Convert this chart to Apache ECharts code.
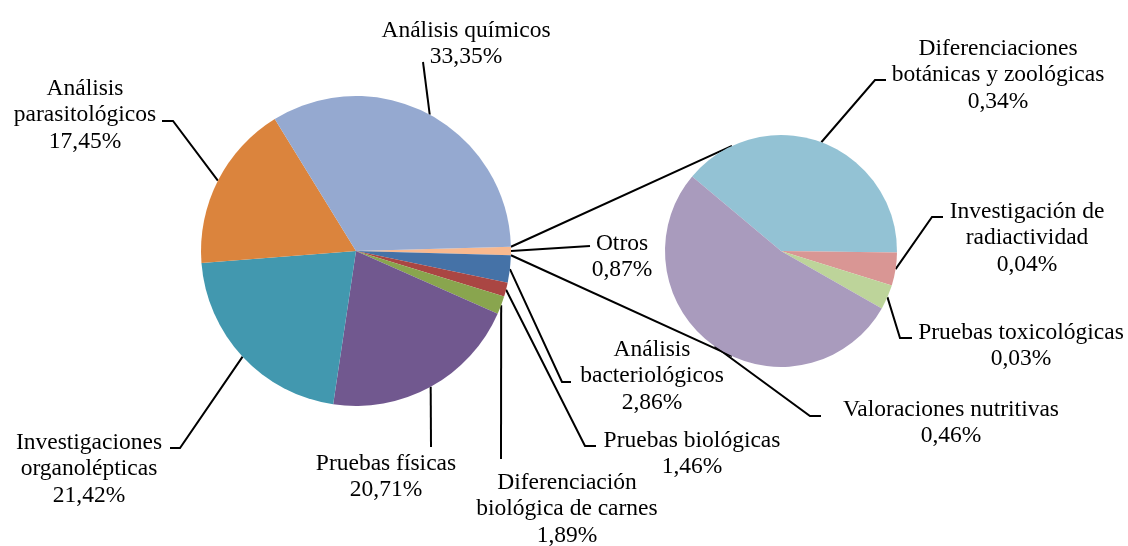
<!DOCTYPE html>
<html>
<head>
<meta charset="utf-8">
<script src="https://cdn.jsdelivr.net/npm/echarts@6/dist/echarts.min.js"></script>
<style>
  html, body { margin: 0; padding: 0; background: #ffffff; }
  #chart { width: 1128px; height: 546px; }
</style>
</head>
<body>
<div id="chart"></div>
<script>
// ---- Data ----
const mainLabels = ['Otros', 'Análisis\nbacteriológicos', 'Pruebas biológicas', 'Diferenciación\nbiológica de carnes',
  'Pruebas físicas', 'Investigaciones\norganolépticas', 'Análisis\nparasitológicos', 'Análisis químicos'];
const mainValues = [0.87, 2.86, 1.46, 1.89, 20.71, 21.42, 17.45, 33.35];
const mainColors = ['#F9B98F', '#4572A7', '#AA4643', '#89A54E', '#71588F', '#4298AF', '#DB843D', '#95A9D0'];

const subLabels = ['Diferenciaciones\nbotánicas y zoológicas', 'Investigación de\nradiactividad',
  'Pruebas toxicológicas', 'Valoraciones nutritivas'];
const subValues = [0.34, 0.04, 0.03, 0.46];
const subColors = ['#93C2D4', '#D99694', '#BDD49A', '#A99BBD'];

// ---- Layout (positions / styles only) ----
const MAIN_C = [356, 251], MAIN_R = 155;
const SUB_C = [781, 251], SUB_R = 116;
const FONT = { fontFamily: 'Liberation Serif', fontSize: 23.5, lineHeight: 26.5, color: '#000' };
const LINE_W = 2;

// label text centres and leader-line bends (after the start point on the slice edge)
const mainLabelPos = [
  { t: [622, 257], pts: [[590, 246]] },
  { t: [652, 376], pts: [[562, 382], [571, 382]] },
  { t: [692, 454], pts: [[585, 446], [596, 446]] },
  { t: [567, 509], pts: [[501, 459]] },
  { t: [386, 477], pts: [[431, 447]] },
  { t: [89, 469], pts: [[180, 448], [170, 448]] },
  { t: [85, 115], pts: [[173, 121], [162, 121]] },
  { t: [466, 44], pts: [[423, 62]] }
];
const subLabelPos = [
  { t: [998, 75], pts: [[875, 80], [886, 80]] },
  { t: [1027, 238], pts: [[932, 217], [943, 217]] },
  { t: [1021, 346], pts: [[900, 338], [912, 338]] },
  { t: [951, 423], pts: [[810, 416], [821, 416]] }
];

function fmt(v) { return v.toFixed(2).replace('.', ',') + '%'; }

function makeLayout(posArr) {
  return function (params) {
    const p = posArr[params.dataIndex];
    const start = params.labelLinePoints ? params.labelLinePoints[0] : p.pts[0];
    return {
      x: p.t[0], y: p.t[1], align: 'center', verticalAlign: 'middle',
      labelLinePoints: [start].concat(p.pts)
    };
  };
}

const mainStart = mainValues[0] / mainValues.reduce((a, b) => a + b, 0) * 360 / 2;

// connector lines between the pies
const rad = Math.PI / 180;
const mainTop = [MAIN_C[0] + MAIN_R * Math.cos(mainStart * rad), MAIN_C[1] - MAIN_R * Math.sin(mainStart * rad)];
const mainBot = [MAIN_C[0] + MAIN_R * Math.cos(mainStart * rad), MAIN_C[1] + MAIN_R * Math.sin(mainStart * rad)];
const subTop = [SUB_C[0] + SUB_R * Math.cos(115 * rad), SUB_C[1] - SUB_R * Math.sin(115 * rad)];
const subBot = [SUB_C[0] + SUB_R * Math.cos(115 * rad), SUB_C[1] + SUB_R * Math.sin(115 * rad)];

const chart = echarts.init(document.getElementById('chart'), null, { renderer: 'canvas' });

const labelCommon = Object.assign({ show: true, position: 'outside', align: 'center' }, FONT);
const lineCommon = { show: true, lineStyle: { color: '#000', width: LINE_W }, length: 10, length2: 10 };

chart.setOption({
  backgroundColor: '#ffffff',
  animation: false,
  graphic: [
    { type: 'line', z: 1, shape: { x1: mainTop[0], y1: mainTop[1], x2: subTop[0], y2: subTop[1] }, style: { stroke: '#000', lineWidth: LINE_W } },
    { type: 'line', z: 1, shape: { x1: mainBot[0], y1: mainBot[1], x2: subBot[0], y2: subBot[1] }, style: { stroke: '#000', lineWidth: LINE_W } }
  ],
  series: [
    {
      type: 'pie',
      center: MAIN_C,
      radius: MAIN_R,
      startAngle: mainStart,
      clockwise: true,
      avoidLabelOverlap: false,
      silent: true,
      label: Object.assign({}, labelCommon, {
        formatter: p => mainLabels[p.dataIndex] + '\n' + fmt(mainValues[p.dataIndex])
      }),
      labelLine: lineCommon,
      labelLayout: makeLayout(mainLabelPos),
      data: mainValues.map((v, i) => ({ name: mainLabels[i], value: v, itemStyle: { color: mainColors[i] } }))
    },
    {
      type: 'pie',
      center: SUB_C,
      radius: SUB_R,
      startAngle: 140,
      clockwise: true,
      avoidLabelOverlap: false,
      silent: true,
      label: Object.assign({}, labelCommon, {
        formatter: p => subLabels[p.dataIndex] + '\n' + fmt(subValues[p.dataIndex])
      }),
      labelLine: lineCommon,
      labelLayout: makeLayout(subLabelPos),
      data: subValues.map((v, i) => ({ name: subLabels[i], value: v, itemStyle: { color: subColors[i] } }))
    }
  ]
});
</script>
</body>
</html>
